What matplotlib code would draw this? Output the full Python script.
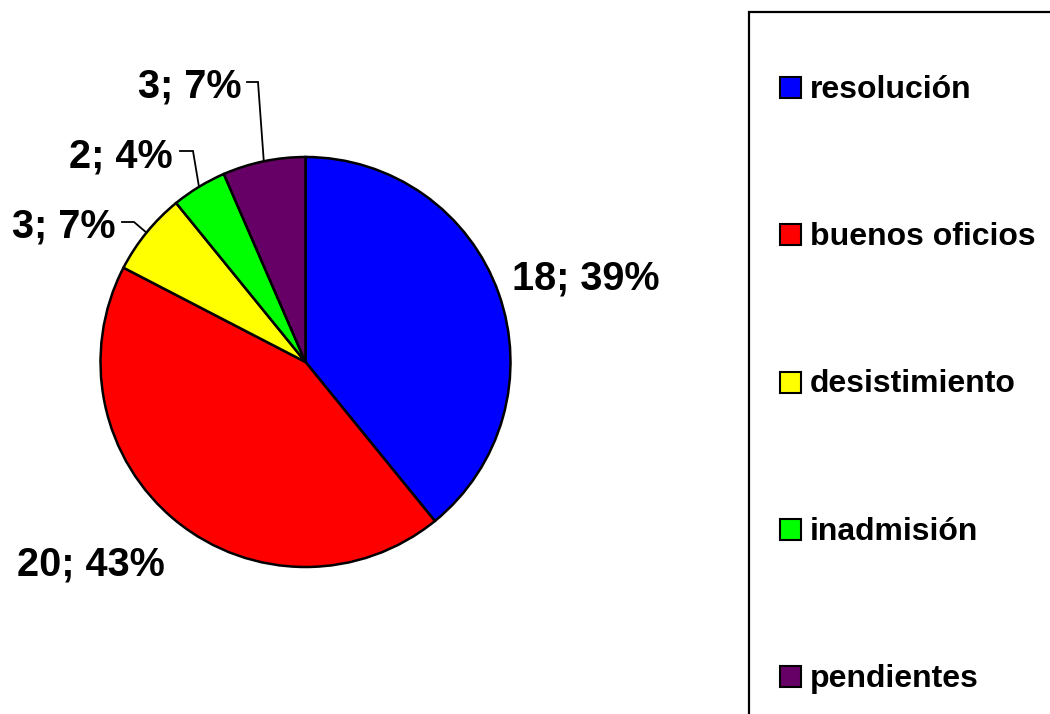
import matplotlib
matplotlib.use("Agg")
import matplotlib.pyplot as plt
from matplotlib.patches import Rectangle
import numpy as np

plt.rcParams["font.family"] = ["Liberation Sans", "DejaVu Sans"]
plt.rcParams["font.weight"] = "bold"

# Data
categories = ["resolución", "buenos oficios", "desistimiento", "inadmisión", "pendientes"]
counts = [18, 20, 3, 2, 3]
colors = ["#0000FF", "#FF0000", "#FFFF00", "#00FF00", "#660066"]

W, H = 1050, 714
fig = plt.figure(figsize=(W / 100, H / 100), dpi=100)
ax = fig.add_axes([0, 0, 1, 1])


def Y(py):
    """Convert a top-down pixel row to the axes' y coordinate."""
    return H - py


cx, cy, r = 305.5, Y(362), 205
wedges, _ = ax.pie(counts, colors=colors, startangle=90, counterclock=False,
                   center=(cx, cy), radius=r, frame=True,
                   wedgeprops=dict(edgecolor="black", linewidth=1.8))
ax.set_xlim(0, W)
ax.set_ylim(0, H)
ax.set_aspect("equal")
ax.axis("off")

total = sum(counts)
labels = [f"{v}; {round(100 * v / total)}%" for v in counts]

# label anchor (x, baseline row, alignment) and optional leader start
label_pos = [(512, 290, "left"), (17, 575, "left"), (115, 237, "right"),
             (173, 168, "right"), (242, 97, "right")]
leaders = [None, None, (122, 222, 134), (180, 151, 193), (247, 82, 258)]

for w, lab, (tx, ty, ha), ld in zip(wedges, labels, label_pos, leaders):
    ax.text(tx, Y(ty), lab, ha=ha, va="baseline", fontsize=28.5,
            fontweight="bold", color="black")
    if ld is not None:
        mid = np.deg2rad((w.theta1 + w.theta2) / 2)
        ex, ey = cx + r * np.cos(mid), cy + r * np.sin(mid)
        x0, py0, x1 = ld
        ax.plot([x0, x1, ex], [Y(py0), Y(py0), ey], color="black",
                lw=1.3, solid_joinstyle="miter", zorder=3)

# legend frame (extends past the right and bottom edges)
ax.plot([749, 749, W + 10], [Y(H + 10), Y(12), Y(12)], color="black",
        lw=1.6, solid_joinstyle="miter", clip_on=False)

first_base, step = 98, 147.25
for i, (name, col) in enumerate(zip(categories, colors)):
    base = first_base + i * step
    ax.add_patch(Rectangle((780, Y(base)), 21, 21, facecolor=col,
                           edgecolor="black", linewidth=1.5))
    ax.text(810, Y(base), name, ha="left", va="baseline", fontsize=23,
            fontweight="bold", color="black")

fig.savefig("out.png", dpi=100, facecolor="white")
